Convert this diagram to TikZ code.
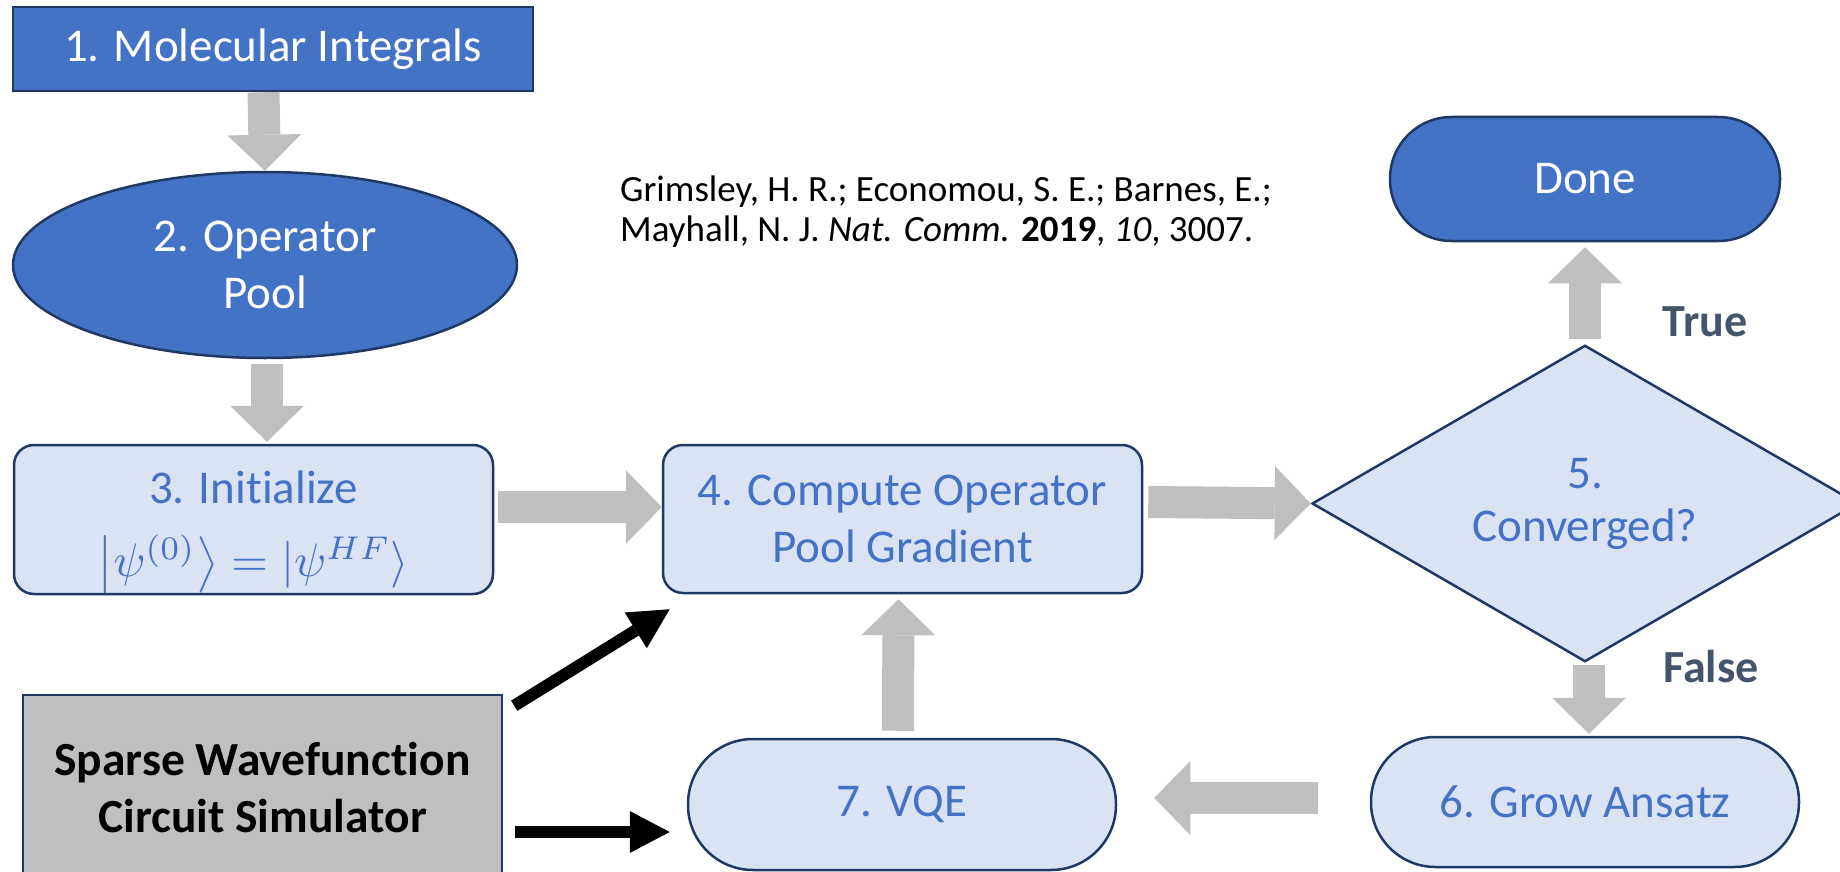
\documentclass[tikz,border=0pt]{standalone}
\usepackage{fontspec}
\setmainfont{Carlito}[Ligatures=NoCommon]
\usepackage{graphicx}
\usetikzlibrary{shapes.geometric,arrows.meta}
\definecolor{dblue}{HTML}{4472C4}
\definecolor{navy}{HTML}{1F3864}
\definecolor{lblue}{HTML}{DAE3F3}
\definecolor{garr}{HTML}{BFBFBF}
\definecolor{slate}{HTML}{44546A}
\begin{document}
\begin{tikzpicture}[x=1pt,y=-1pt,
  bluebox/.style={draw=navy, line width=2.5pt, fill=dblue, text=white, font=\fontsize{47}{57}\selectfont, align=center, inner sep=0pt},
  lightbox/.style={draw=navy, line width=2.5pt, fill=lblue, text=dblue, font=\fontsize{47}{57}\selectfont, align=center, inner sep=0pt},
  intext/.style={text=dblue, font=\fontsize{47}{57}\selectfont, inner sep=0pt},
  garrow/.style={draw=garr, line width=32pt, -{Triangle[length=36pt,width=74pt,line width=0pt]}},
  barrow/.style={draw=black, line width=12pt, -{Triangle[length=40pt,width=42pt,line width=0pt]}},
  lbl/.style={text=slate, font=\bfseries\fontsize{46}{55}\selectfont, inner sep=0pt},
]
\useasboundingbox (0,0) rectangle (1840,872);

% nodes
\node[bluebox, rectangle, minimum width=520pt, minimum height=84pt] (b1) at (273,49) {1. Molecular Integrals};
\node[bluebox, ellipse, minimum width=504pt, minimum height=186pt] (e2) at (265,265) {2. Operator\\Pool};
\node[lightbox, rectangle, rounded corners=20pt, minimum width=479pt, minimum height=149pt] (b3) at (253.5,519.5) {};
\node[intext] (b3t) at ([yshift=32pt]b3.center) {3. Initialize};
\node[intext] (b3m) at ([yshift=-44pt]b3.center)
  {\scalebox{4.7}{\normalsize$\left|\psi^{(0)}\right\rangle = |\psi^{HF}\rangle$}};
\node[lightbox, rectangle, rounded corners=20pt, minimum width=479pt, minimum height=148pt] (b4) at (902.5,519)
  {4. Compute Operator\\Pool Gradient};
\node[lightbox, diamond, minimum width=546pt, minimum height=237pt, font=\fontsize{47}{53}\selectfont] (d5) at (1585,503.5)
  {5.\\Converged?};
\node[bluebox, rectangle, rounded corners=61.5pt, minimum width=390pt, minimum height=124pt] (done) at (1585,179) {Done};
\node[lightbox, rectangle, rounded corners=64.5pt, minimum width=428pt, minimum height=130pt] (g6) at (1585,802) {6. Grow Ansatz};
\node[lightbox, rectangle, rounded corners=65pt, minimum width=428pt, minimum height=131pt] (vqe) at (902,804.5) {7. VQE};
\node[draw=navy, line width=2.5pt, fill=garr, text=black, align=center, inner sep=0pt,
  font=\bfseries\fontsize{47.5}{57}\selectfont, minimum width=479pt, minimum height=185pt] (sp) at (262.5,787.5)
  {Sparse Wavefunction\\Circuit Simulator};

\node[anchor=west, align=left, inner sep=0pt, font=\fontsize{37}{40}\selectfont] (cite) at (620,212)
  {Grimsley, H. R.; Economou, S. E.; Barnes, E.;\\Mayhall, N. J. \textit{Nat. Comm.} \textbf{2019}, \textit{10}, 3007.};

\node[lbl] (tl) at (1705,322) {True};
\node[lbl] (fl) at (1711,667) {False};

% gray block arrows
\draw[garrow] ([xshift=-9.5pt]b1.south) -- (e2.north);
\draw[garrow] ([xshift=2pt,yshift=-5pt]e2.south) -- ([xshift=13.5pt,yshift=2pt]b3.north);
\draw[garrow] ([xshift=4pt,yshift=12.5pt]b3.east) -- ([yshift=12pt]b4.west);
\draw[garrow] ([xshift=5pt,yshift=17pt]b4.east) -- (d5.west);
\draw[garrow] ([yshift=5pt]d5.north) -- ([yshift=-5pt]done.south);
\draw[garrow] ([xshift=4pt,yshift=-2pt]d5.south) -- ([xshift=4pt,yshift=2pt]g6.north);
\draw[garrow] ([xshift=-52pt,yshift=4pt]g6.west) -- ([xshift=37pt,yshift=6.5pt]vqe.east);
\draw[garrow] ([xshift=-4pt,yshift=7pt]vqe.north) -- ([xshift=-4pt,yshift=-5pt]b4.south);

% black arrows
\draw[barrow] ([xshift=11pt,yshift=-12pt]sp.north east) -- ([xshift=8pt,yshift=-15pt]b4.south west);
\draw[barrow] ([xshift=12pt,yshift=-44.5pt]sp.east) -- ([xshift=-17pt,yshift=-27.5pt]vqe.west);
\end{tikzpicture}
\end{document}
